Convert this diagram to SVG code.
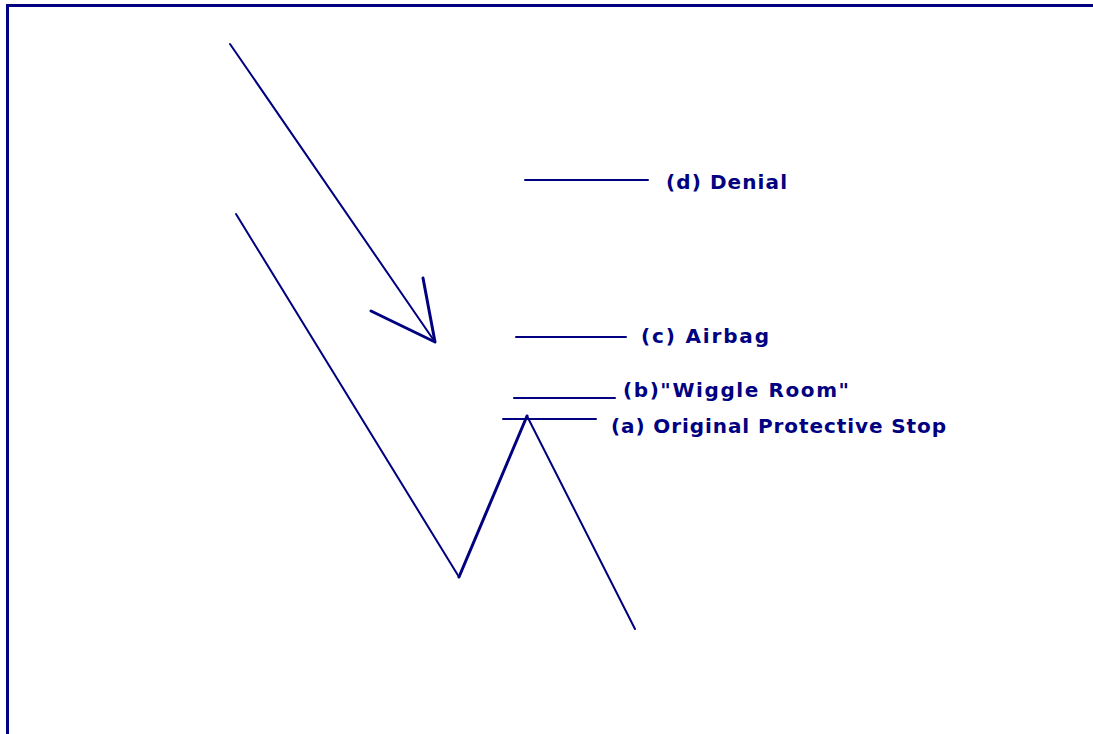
<svg xmlns="http://www.w3.org/2000/svg" width="1093" height="734" viewBox="0 0 1093 734">
<style>
.ln{stroke:#000080;stroke-width:2;fill:none;stroke-linecap:round;stroke-linejoin:round}
.thk{stroke-width:3}
.lb{font-family:"DejaVu Sans",Verdana,sans-serif;font-weight:bold;font-size:20px;fill:#000080}
</style>
<rect width="1093" height="734" fill="#ffffff"/>
<rect id="frame" x="7.5" y="5.5" width="1100" height="740" fill="none" stroke="#000080" stroke-width="3"/>
<g id="connectors">
<line class="ln" x1="230" y1="44" x2="435" y2="342"/>
<polyline class="ln thk" points="371,311 435,342 423,278"/>
<polyline class="ln" points="236,214 459,577"/>
<polyline class="ln thk" points="459,577 527,416"/>
<polyline class="ln" points="527,416 635,629"/>
<line class="ln" x1="525" y1="180" x2="648" y2="180"/>
<line class="ln" x1="516" y1="337" x2="626" y2="337"/>
<line class="ln" x1="514" y1="398" x2="615" y2="398"/>
<line class="ln" x1="503" y1="419" x2="596" y2="419"/>
</g>
<g id="label-d"><text class="lb" x="666" y="189" textLength="121" lengthAdjust="spacing">(d) Denial</text></g>
<g id="label-c"><text class="lb" x="641" y="343" textLength="128" lengthAdjust="spacing">(c)  Airbag</text></g>
<g id="label-b"><text class="lb" x="623" y="397" textLength="226" lengthAdjust="spacing">(b)"Wiggle Room"</text></g>
<g id="label-a"><text class="lb" x="611" y="433" textLength="335" lengthAdjust="spacing">(a) Original Protective Stop</text></g>
</svg>
